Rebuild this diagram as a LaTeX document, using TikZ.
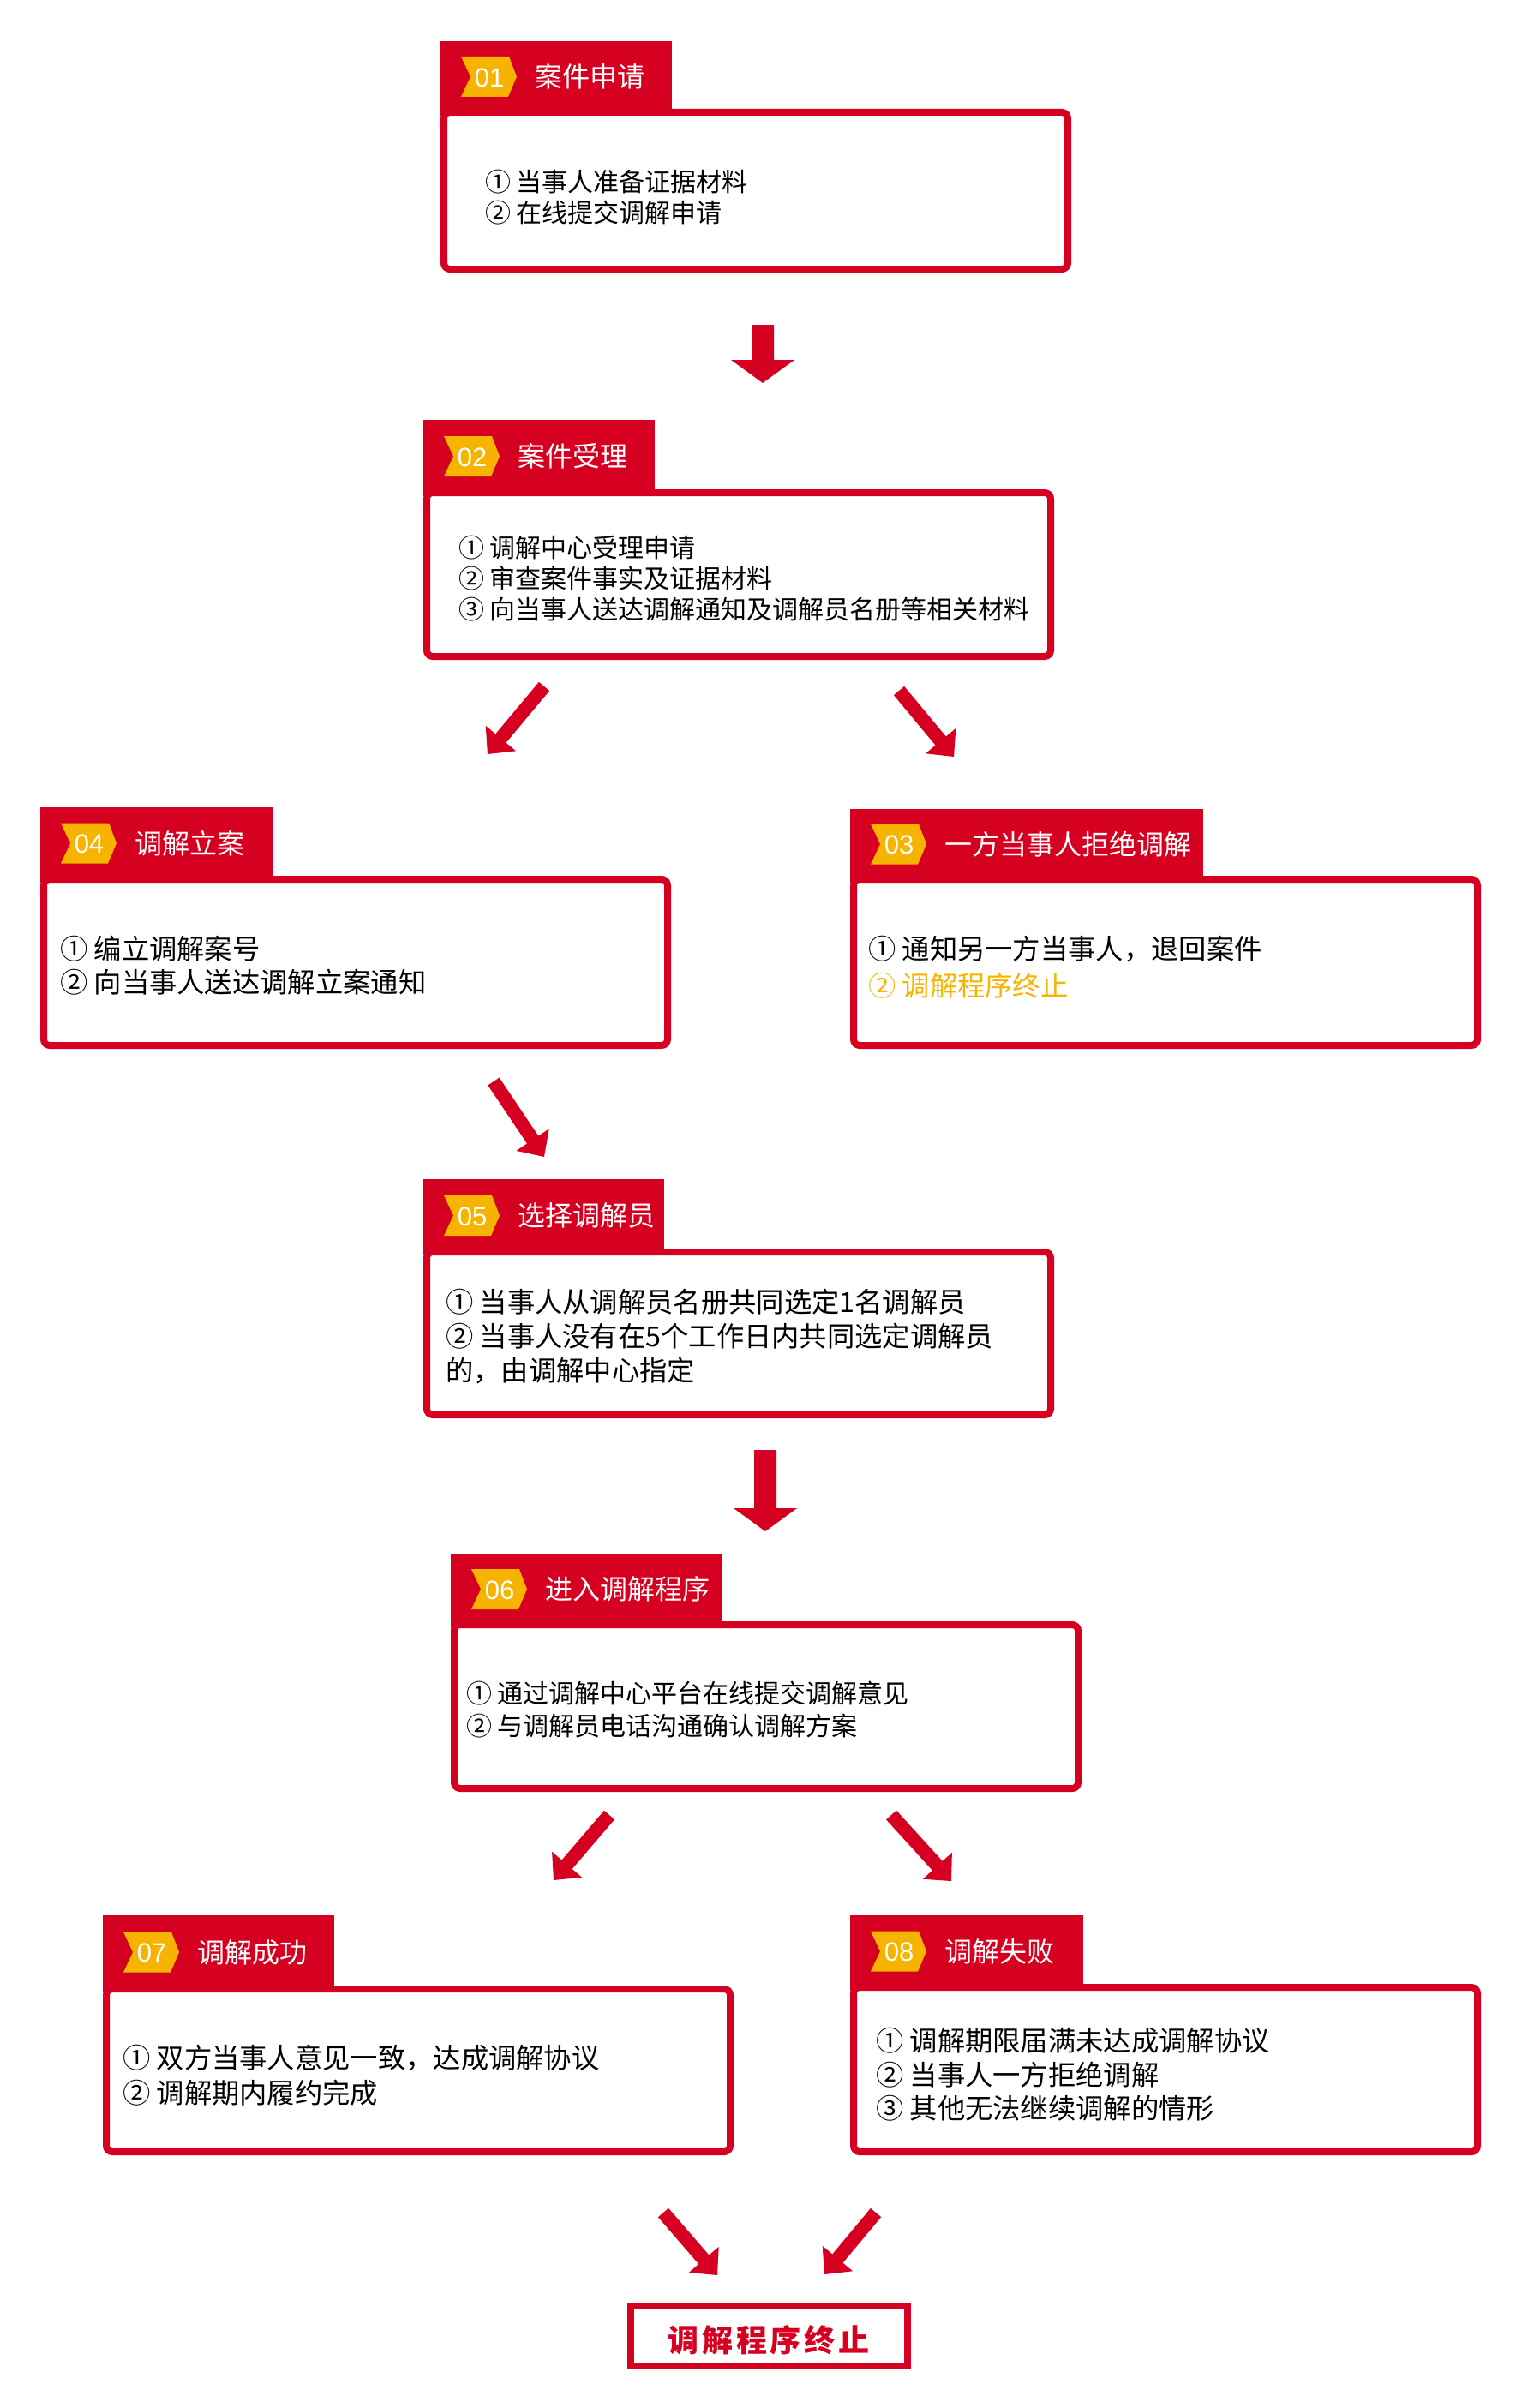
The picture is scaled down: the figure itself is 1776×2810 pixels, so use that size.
\documentclass[tikz,border=0pt]{standalone}
\usepackage{fontspec}
\setmainfont{Noto Sans CJK SC}
\newfontfamily\numfont{Liberation Sans}
\usetikzlibrary{calc}
\definecolor{redc}{RGB}{214,0,32}
\definecolor{yelc}{RGB}{246,180,0}
\tikzset{
  boxframe/.style={draw=redc, line width=8pt, rounded corners=7pt, anchor=north west, minimum width=728pt, inner sep=0pt, outer sep=0pt},
  tabfill/.style={fill=redc, anchor=north west, inner sep=0pt, outer sep=0pt},
  numtext/.style={text=white, inner sep=0pt, font=\numfont\fontsize{31}{31}\selectfont},
  titletext/.style={text=white, anchor=west, inner sep=0pt, font=\fontsize{32}{32}\selectfont},
  bodytext/.style={anchor=west, align=left, inner sep=0pt, font=\fontsize{30}{#1}\selectfont},
  bodybig/.style={anchor=west, align=left, inner sep=0pt, font=\fontsize{32.3}{#1}\selectfont},
}
% id, x, tabTop, tabW, boxTop, boxBot, num, title
\newcommand{\flowstep}[8]{%
  \node[boxframe, minimum height={#6-#5-8}] (box#1) at ({#2+4},{#5+4}) {};
  \node[tabfill, minimum width={#4}, minimum height={#5-#3+8}] (tab#1) at (#2,#3) {};
  \coordinate (cv#1) at ({#2},{(#3+#5)/2+2});
  \fill[yelc] ($(cv#1)+(24,-23.5)$) -- ($(cv#1)+(80,-23.5)$) -- ($(cv#1)+(89,0)$) -- ($(cv#1)+(79,23.5)$) -- ($(cv#1)+(24,23.5)$) -- ($(cv#1)+(35,0)$) -- cycle;
  \node[numtext] (num#1) at ($(cv#1)+(57,1)$) {#7};
  \node[titletext] (title#1) at ($(cv#1)+(110,0)$) {#8};
}
% tail, tip, half shaft, half head, head length
\newcommand{\blockarrow}[5]{%
  \coordinate (#1-b) at ($(#2)!#5!(#1)$);
  \fill[redc] ($(#1)!#3!90:(#2)$) -- ($(#1-b)!#3!-90:(#1)$) -- ($(#1-b)!#4!-90:(#1)$) -- (#2) -- ($(#1-b)!#4!90:(#1)$) -- ($(#1-b)!#3!90:(#1)$) -- ($(#1)!#3!-90:(#2)$) -- cycle;
}
\begin{document}
\begin{tikzpicture}[x=1pt,y=-1pt]
\useasboundingbox[fill=white] (0,0) rectangle (1776,2810);

\flowstep{1}{514}{48}{270}{127}{318}{01}{案件申请}
\node[bodytext=36] (txt1) at (566,230) {① 当事人准备证据材料\\② 在线提交调解申请};

\flowstep{2}{494}{490}{270}{571}{770}{02}{案件受理}
\node[bodytext=36] (txt2) at (535,675) {① 调解中心受理申请\\② 审查案件事实及证据材料\\③ 向当事人送达调解通知及调解员名册等相关材料};

\flowstep{4}{47}{942}{272}{1022}{1224}{04}{调解立案}
\node[bodybig=39] (txt4) at (70,1127) {① 编立调解案号\\② 向当事人送达调解立案通知};

\flowstep{3}{992}{944}{412}{1022}{1224}{03}{一方当事人拒绝调解}
\node[bodybig=43] (txt3) at (1013,1129) {① 通知另一方当事人，退回案件\\\textcolor{yelc}{② 调解程序终止}};

\flowstep{5}{494}{1376}{281}{1457}{1655}{05}{选择调解员}
\node[bodybig=40] (txt5) at (520,1560) {① 当事人从调解员名册共同选定1名调解员\\② 当事人没有在5个工作日内共同选定调解员\\的，由调解中心指定};

\flowstep{6}{526}{1813}{317}{1892}{2091}{06}{进入调解程序}
\node[bodytext=38] (txt6) at (544,1995) {① 通过调解中心平台在线提交调解意见\\② 与调解员电话沟通确认调解方案};

\flowstep{7}{120}{2235}{270}{2317}{2515}{07}{调解成功}
\node[bodybig=41] (txt7) at (143,2422) {① 双方当事人意见一致，达成调解协议\\② 调解期内履约完成};

\flowstep{8}{992}{2235}{272}{2315}{2515}{08}{调解失败}
\node[bodybig=39.5] (txt8) at (1022,2421) {① 调解期限届满未达成调解协议\\② 当事人一方拒绝调解\\③ 其他无法继续调解的情形};

\node[draw=redc, line width=8pt, minimum width=323pt, minimum height=70pt, inner sep=0pt, outer sep=0pt] (endbox) at (897.5,2726) {};
\node[text=redc, inner sep=0pt, font=\bfseries\fontsize{36}{36}\selectfont] (endtxt) at (897,2731) {调\hspace{4pt}解\hspace{4pt}程\hspace{4pt}序\hspace{4pt}终\hspace{4pt}止};

% arrows
\coordinate (a1t) at (890,379); \coordinate (a1h) at (890,447);
\blockarrow{a1t}{a1h}{13pt}{37pt}{27pt}
\coordinate (a2t) at (893,1692); \coordinate (a2h) at (893,1787);
\blockarrow{a2t}{a2h}{13pt}{37pt}{27pt}
\coordinate (d1t) at (635,801); \coordinate (d1h) at (569,880);
\blockarrow{d1t}{d1h}{8pt}{23pt}{24pt}
\coordinate (d2t) at (1049,806); \coordinate (d2h) at (1113,883);
\blockarrow{d2t}{d2h}{8pt}{23pt}{24pt}
\coordinate (d3t) at (576,1262); \coordinate (d3h) at (635,1350);
\blockarrow{d3t}{d3h}{8pt}{23pt}{24pt}
\coordinate (d4t) at (711,2118); \coordinate (d4h) at (646,2194);
\blockarrow{d4t}{d4h}{8pt}{23pt}{24pt}
\coordinate (d5t) at (1040,2118); \coordinate (d5h) at (1110,2195);
\blockarrow{d5t}{d5h}{8pt}{23pt}{24pt}
\coordinate (d6t) at (774,2582); \coordinate (d6h) at (837,2655);
\blockarrow{d6t}{d6h}{8pt}{23pt}{24pt}
\coordinate (d7t) at (1022,2582); \coordinate (d7h) at (962,2654);
\blockarrow{d7t}{d7h}{8pt}{23pt}{24pt}
\end{tikzpicture}
\end{document}
